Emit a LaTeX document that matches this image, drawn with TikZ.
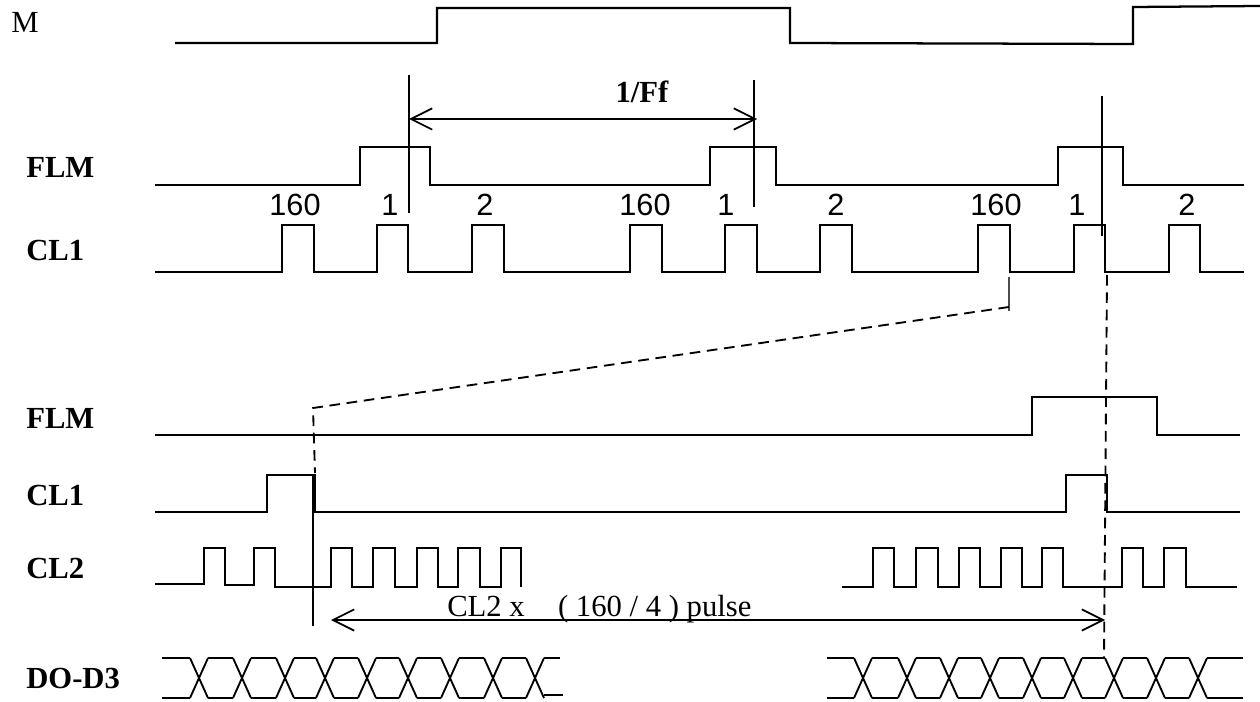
\documentclass[tikz,border=0pt]{standalone}
\usepackage{fontspec}
\setmainfont{Liberation Serif}
\setsansfont{Liberation Sans}
\usetikzlibrary{arrows.meta}

\tikzset{
	wave/.style={line width=1.7pt},
	bus/.style={line width=1.4pt},
	marker/.style={line width=1.4pt},
	dimline/.style={line width=1.2pt,{Straight Barb[length=16pt,width=16pt,line width=1.3pt]}-{Straight Barb[length=16pt,width=16pt,line width=1.3pt]}},
	guide/.style={line width=1.4pt,dash pattern=on 8pt off 5pt},
	siglabel/.style={anchor=base west,inner sep=0pt,font=\fontsize{23}{25}\selectfont\bfseries},
	countlabel/.style={anchor=base,inner sep=0pt,font=\fontsize{23}{25}\selectfont\sffamily},
}

\begin{document}
\begin{tikzpicture}[x=0.75pt,y=-0.75pt]

\useasboundingbox (0,0) rectangle (1260,702);

%M
\node [anchor=base west,inner sep=0pt,font=\fontsize{23}{25}\selectfont]  (mtext)at (11,33) {M};
\draw[wave] (175,43) -- (437,43) -- (437,8) -- (790,8) -- (790,43) -- (1133,44) -- (1133,7) -- (1260,6);

%Frame signal
\node [siglabel]  (flmtext)at (26,178) {FLM};
\draw[wave] (155,185) \foreach \a/\b in {360/430,710/776,1058/1123} { -- (\a,185) -- (\a,147) -- (\b,147) -- (\b,185) } -- (1244,185);

%Frame period
\coordinate (fa) at (409,75);
\coordinate (fb) at (409,213);
\coordinate (fc) at (754,80);
\coordinate (fd) at (754,207);
\coordinate (fe) at (1102,96);
\coordinate (ff) at (1102,236);
\draw[marker] (fa) -- (fb);
\draw[marker] (fc) -- (fd);
\draw[marker] (fe) -- (ff);
\coordinate (pa) at (409,119);
\coordinate (pb) at (757,119);
\draw[dimline] (pa) -- (pb);
\node [anchor=base,font=\fontsize{23}{25}\selectfont\bfseries,inner sep=0pt]  (fftext)at (642,103) {1/Ff};

%Line clock
\node [siglabel]  (clatext)at (26,261) {CL1};
\draw[wave] (155,272) \foreach \a/\b in {282/314,377/408,472/504,630/662,725/757,820/852,978/1010,1074/1105,1169/1200} { -- (\a,272) -- (\a,225) -- (\b,225) -- (\b,272) } -- (1244,272);

\foreach \x/\t [count=\i] in {295/160,390/1,485/2,645/160,726/1,836/2,996/160,1077/1,1187/2} {
	\node [countlabel]  (count\i)at (\x,216) {\t};
}

%Zoomed part
\coordinate (za) at (1009,277);
\coordinate (zb) at (1009,311);
\coordinate (zc) at (1009,307);
\coordinate (zd) at (313,408);
\coordinate (ze) at (315,473);
\draw[line width=0.9pt,black!70] (za) -- (zb);
\draw[guide] (zc) -- (zd) -- (ze);

\coordinate (zf) at (1107,275);
\coordinate (zg) at (1104,658);
\draw[guide] (zf) -- (zg);

%Frame signal, zoomed
\node [siglabel]  (flmtextb)at (26,428) {FLM};
\draw[wave] (155,435) -- (1032,435) -- (1032,397) -- (1157,397) -- (1157,435) -- (1240,435);

%Line clock, zoomed
\node [siglabel]  (clbtext)at (26,505) {CL1};
\draw[wave] (155,512) \foreach \a/\b in {267/315,1066/1107} { -- (\a,512) -- (\a,475) -- (\b,475) -- (\b,512) } -- (1240,512);

\coordinate (la) at (313,475);
\coordinate (lb) at (313,626);
\draw[marker] (la) -- (lb);

%Shift clock
\node [siglabel]  (cl2text)at (26,578) {CL2};
\draw[bus] (155,584) -- (204,584) -- (204,548) -- (225,548) -- (225,585) -- (254,585) -- (254,548) -- (275,548) -- (275,587) \foreach \a/\b in {331/352,373/395,417/438,458/480,501/521} { -- (\a,587) -- (\a,548) -- (\b,548) -- (\b,587) };
\draw[bus] (842,587) \foreach \a/\b in {873/894,916/938,959/980,1001/1022,1042/1063,1122/1143,1164/1186} { -- (\a,587) -- (\a,548) -- (\b,548) -- (\b,587) } -- (1237,587);

%Pulse count
\coordinate (qa) at (331,620);
\coordinate (qb) at (1105,620);
\draw[dimline] (qa) -- (qb);
\node [anchor=base west,inner sep=0pt,font=\fontsize{23}{25}\selectfont]  (cnttext)at (447,616) {CL2 x\hspace*{25pt}( 160 / 4 ) pulse};

%Data
\node [siglabel]  (dotext)at (26,688) {DO-D3};
\foreach \c [remember=\c as \p (initially 153)] in {199,242,285,325,367,408,450,493,535} {
	\draw[bus] (\c-9,658) -- (\c+9,698);
	\draw[bus] (\c-9,698) -- (\c+9,658);
	\draw[bus] (\p+9,658) -- (\c-9,658);
	\draw[bus] (\p+9,698) -- (\c-9,698);
}
\draw[bus] (544,658) -- (560,658);
\draw[bus] (544,695) -- (563,695);

\foreach \c [remember=\c as \p (initially 818)] in {863,907,949,990,1032,1073,1114,1156,1198} {
	\draw[bus] (\c-9,658) -- (\c+9,698);
	\draw[bus] (\c-9,698) -- (\c+9,658);
	\draw[bus] (\p+9,658) -- (\c-9,658);
	\draw[bus] (\p+9,698) -- (\c-9,698);
}
\draw[bus] (1207,658) -- (1243,658);
\draw[bus] (1207,698) -- (1243,698);

\end{tikzpicture}
\end{document}
